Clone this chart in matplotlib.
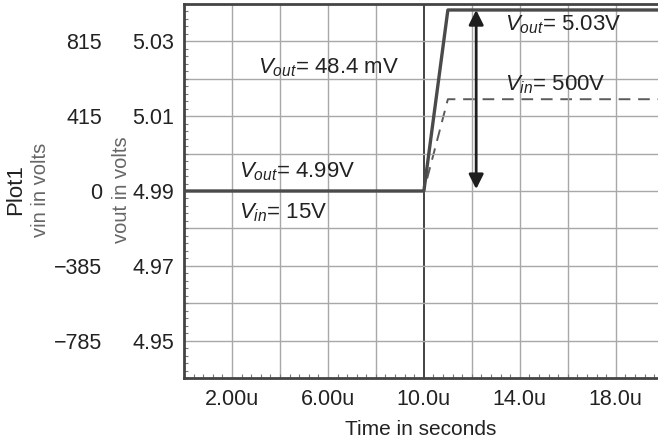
import matplotlib.pyplot as plt
from matplotlib.ticker import MultipleLocator

plt.rcParams['font.family'] = ['Liberation Sans', 'DejaVu Sans']
plt.rcParams['mathtext.fontset'] = 'custom'
plt.rcParams['mathtext.it'] = 'Liberation Sans:italic'
plt.rcParams['mathtext.rm'] = 'Liberation Sans'

# time in microseconds
t_out = [0, 10, 11, 20]
vout = [4.99, 4.99, 5.0384, 5.0384]
t_in = [0, 10, 11, 20]
vin = [0, 0, 500, 500]

x_ticks = [2, 6, 10, 14, 18]
x_labels = ['2.00u', '6.00u', '10.0u', '14.0u', '18.0u']
vout_ticks = [4.95, 4.97, 4.99, 5.01, 5.03]
vout_labels = ['4.95', '4.97', '4.99', '5.01', '5.03']
vin_ticks = [-815, -407.5, 0, 407.5, 815]
vin_labels = ['\u2212785', '\u2212385', '0', '415', '815']

fig = plt.figure(figsize=(6.58, 4.41), dpi=100)
ax = fig.add_axes([184/658, 1-378/441, 474/658, 374/441])
ax.set_xlim(0, 19.76)
ax.set_ylim(4.94, 5.04)

grid_c = '#a8a8a8'
for x in range(2, 20, 2):
    ax.axvline(x, color='#222222' if x == 10 else grid_c, lw=1.2 if x == 10 else 1, zorder=1)
for y in [4.95, 4.96, 4.97, 4.98, 4.99, 5.00, 5.01, 5.02, 5.03]:
    ax.axhline(y, color=grid_c, lw=1, zorder=1)

ax2 = ax.twinx()
ax2.set_ylim(-1018.75, 1018.75)
ax2.plot(t_in, vin, color='#5a5a5a', lw=1.4, dashes=(6, 4), zorder=2)
ax2.yaxis.set_ticks_position('left')
ax2.set_yticks(vin_ticks)
ax2.set_yticklabels(vin_labels)
ax2.tick_params(axis='y', length=0, pad=59, labelsize=15.5, colors='#222222')
for s in ax2.spines.values():
    s.set_visible(False)

# solid vout trace on top of the dashed vin trace
ax2.plot([], [])
ax.set_zorder(ax2.get_zorder() + 1)
ax.patch.set_visible(False)
ax.plot(t_out, vout, color='#4a4a4a', lw=2.4, zorder=3)

ax.annotate('', xy=(12.18, 5.0384), xytext=(12.18, 4.9905),
            arrowprops=dict(arrowstyle='<|-|>', lw=2, color='#1e1e1e',
                            mutation_scale=22, shrinkA=0, shrinkB=0), zorder=5)

ax.set_xticks(x_ticks)
ax.set_xticklabels(x_labels)
ax.set_yticks(vout_ticks)
ax.set_yticklabels(vout_labels)
ax.xaxis.set_minor_locator(MultipleLocator(0.4))
ax.yaxis.set_minor_locator(MultipleLocator(0.002))
ax.tick_params(which='major', length=0, labelsize=15.5, colors='#222222')
ax.tick_params(axis='x', which='major', pad=8)
ax.tick_params(axis='y', which='major', pad=7)
ax.tick_params(which='minor', direction='in', length=3, width=0.8, color='#777777')

for side in ['top', 'left', 'bottom']:
    ax.spines[side].set_color('#444444')
    ax.spines[side].set_linewidth(2)
ax.spines['right'].set_visible(False)

ax.set_xlabel('Time in seconds', fontsize=15, color='#222222', labelpad=7)

tk = dict(fontsize=16, color='#222222', va='center', ha='left', zorder=6)
ax.text(13.4, 5.0345, r'$V_{out}$= 5.03V', **tk)
ax.text(13.4, 5.0184, r'$V_{in}$= 500V', **tk)
ax.text(3.1, 5.023, r'$V_{out}$= 48.4 mV', **tk)
ax.text(2.3, 4.9952, r'$V_{out}$= 4.99V', **tk)
ax.text(2.3, 4.9842, r'$V_{in}$= 15V', **tk)

fig.text(15.5/658, 1-190/441, 'Plot1', rotation=90, ha='center', va='center',
         fontsize=16, color='#222222')
fig.text(41/658, 1-190/441, 'vin in volts', rotation=90, ha='center', va='center',
         fontsize=14.5, color='#666666')
fig.text(121/658, 1-190/441, 'vout in volts', rotation=90, ha='center', va='center',
         fontsize=14.5, color='#666666')

fig.savefig('out.png', dpi=100)
